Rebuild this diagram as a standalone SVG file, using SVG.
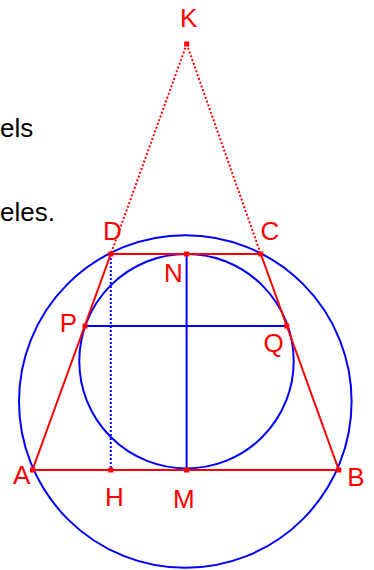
<svg xmlns="http://www.w3.org/2000/svg" width="374" height="570" viewBox="0 0 374 570">
<style>
.t{font-family:"Liberation Sans",Arial,sans-serif;font-size:26px}
.lbl{fill:#ff0000}
.txt{fill:#000000}
.red{stroke:#ff0000;stroke-width:2;fill:none}
.blue{stroke:#0000ff;stroke-width:2;fill:none}
.dot{stroke-dasharray:2 2}
.pt{fill:#ff0000}
</style>
<rect width="374" height="570" fill="#ffffff"/>
<g id="text">
<text class="t txt" x="0" y="137">els</text>
<text class="t txt" x="0" y="221">eles.</text>
</g>
<g id="circles">
<circle id="circumcircle" class="blue" cx="185.3" cy="401.5" r="166.3"/>
<circle id="incircle" class="blue" cx="186.5" cy="361.2" r="107.2"/>
</g>
<g id="connectors">
<line class="red dot" x1="186.7" y1="44" x2="110.8" y2="254"/>
<line class="red dot" x1="186.7" y1="44" x2="260.8" y2="254"/>
<line class="blue dot" x1="110.8" y1="254" x2="110.8" y2="470"/>
<line class="blue" x1="186.6" y1="254" x2="186.6" y2="470"/>
<line class="blue" x1="85" y1="326" x2="286.7" y2="326"/>
<polygon class="red" points="32.5,470 338.8,470 260.8,254 110.8,254"/>
</g>
<g id="K"><rect class="pt" x="184.2" y="41.5" width="5" height="5"/><text class="t lbl" x="180" y="27.3">K</text></g>
<g id="D"><rect class="pt" x="108.3" y="251.5" width="5" height="5"/><text class="t lbl" x="103" y="240">D</text></g>
<g id="C"><rect class="pt" x="258.3" y="251.5" width="5" height="5"/><text class="t lbl" x="260.5" y="240">C</text></g>
<g id="N"><rect class="pt" x="184.1" y="251.5" width="5" height="5"/><text class="t lbl" x="164" y="281.5">N</text></g>
<g id="P"><rect class="pt" x="82.5" y="323.5" width="5" height="5"/><text class="t lbl" x="59.7" y="331.5">P</text></g>
<g id="Q"><rect class="pt" x="284.2" y="323.5" width="5" height="5"/><text class="t lbl" x="263.5" y="351.5">Q</text></g>
<g id="A"><rect class="pt" x="30" y="467.5" width="5" height="5"/><text class="t lbl" x="13" y="483.5">A</text></g>
<g id="B"><rect class="pt" x="336.3" y="467.5" width="5" height="5"/><text class="t lbl" x="347.3" y="485.5">B</text></g>
<g id="H"><rect class="pt" x="108.3" y="467.5" width="5" height="5"/><text class="t lbl" x="105" y="505.5">H</text></g>
<g id="M"><rect class="pt" x="184.1" y="467.5" width="5" height="5"/><text class="t lbl" x="173" y="508">M</text></g>
</svg>
